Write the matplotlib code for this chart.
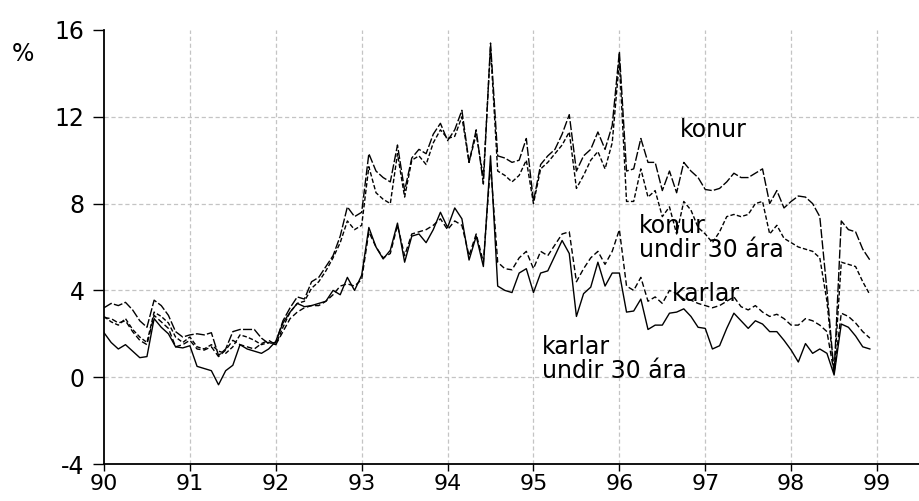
#!/usr/bin/env python3
# Atvinnuleysi kvenna og karla, 1990-1998 (manaðartölur, %)

import numpy as np
import matplotlib
matplotlib.use("Agg")
import matplotlib.pyplot as plt

# ── data (monthly, 1990:01 - 1998:12) ─────────────────────────────────
START_YEAR = 90

konur = [
    3.2, 3.4, 3.3, 3.45, 3.1, 2.6, 2.3, 3.55, 3.3, 2.85, 2.1, 1.85,          # 1990
    1.95, 2.0, 1.95, 2.05, 1.0, 1.3, 2.1, 2.2, 2.2, 2.2, 1.8, 1.55,          # 1991
    1.6, 2.6, 3.2, 3.7, 3.6, 4.4, 4.6, 5.1, 5.6, 6.5, 7.85, 7.4,             # 1992
    7.6, 10.3, 9.5, 9.2, 9.0, 10.7, 8.6, 10.1, 10.5, 10.3, 11.2, 11.7,       # 1993
    10.9, 11.4, 12.3, 9.9, 11.4, 8.9, 15.4, 10.2, 10.1, 9.9, 10.0, 11.0,     # 1994
    8.1, 9.8, 10.2, 10.5, 11.2, 12.1, 9.5, 10.2, 10.5, 11.3, 10.5, 11.6,     # 1995
    15.0, 9.5, 9.6, 11.0, 9.9, 9.9, 8.6, 9.5, 8.5, 9.9, 9.5, 9.2,            # 1996
    8.65, 8.6, 8.7, 9.0, 9.4, 9.2, 9.2, 9.4, 9.6, 8.0, 8.6, 7.8,             # 1997
    8.1, 8.35, 8.3, 8.0, 7.4, 4.0, 0.2, 7.2, 6.8, 6.7, 5.9, 5.4,             # 1998
]

konur_u30 = [
    2.8, 2.55, 2.4, 2.7, 2.2, 1.85, 1.6, 3.0, 2.8, 2.5, 1.85, 1.6,
    1.85, 1.4, 1.3, 1.5, 1.2, 1.1, 1.4, 1.95, 1.85, 1.7, 1.5, 1.6,
    1.5, 2.3, 3.0, 3.4, 3.5, 4.1, 4.4, 4.9, 5.5, 6.2, 7.2, 6.8,
    7.0, 9.7, 8.5, 8.2, 8.0, 10.3, 8.3, 10.0, 10.2, 9.8, 10.8, 11.4,
    11.0, 11.1, 12.0, 9.9, 11.2, 9.2, 15.2, 9.5, 9.3, 9.0, 9.3, 10.0,
    8.0, 9.6, 9.9, 10.3, 10.7, 11.3, 8.7, 9.3, 10.0, 10.4, 9.6, 10.8,
    14.6, 8.1, 8.1, 9.6, 8.3, 8.6, 7.4, 7.85, 6.6, 8.1, 7.7, 6.9,
    6.6, 6.2, 6.7, 7.4, 7.5, 7.4, 7.5, 8.0, 8.1, 6.6, 7.0, 6.4,
    6.2, 6.0, 5.9, 5.8, 5.5, 3.5, 0.2, 5.3, 5.2, 5.1, 4.4, 3.8,
]

karlar = [
    2.75, 2.7, 2.5, 2.6, 2.1, 1.7, 1.5, 2.85, 2.55, 2.25, 1.4, 1.5,
    1.7, 1.3, 1.25, 1.4, 0.95, 1.25, 1.7, 1.5, 1.4, 1.3, 1.55, 1.7,
    1.5, 2.1, 2.7, 3.0, 3.2, 3.3, 3.3, 3.5, 3.8, 4.2, 4.3, 4.2,
    4.5, 6.7, 6.0, 5.5, 5.7, 7.0, 5.6, 6.6, 6.7, 6.8, 7.0, 7.3,
    6.8, 7.2, 7.0, 5.6, 6.6, 5.3, 9.8, 5.3, 5.0, 4.95, 5.5, 5.8,
    5.0, 5.8, 5.6, 6.1, 6.6, 6.7, 4.4, 5.0, 5.5, 5.8, 5.2, 5.8,
    6.8, 4.2, 4.0, 4.6, 3.5, 3.7, 3.4, 4.0, 3.85, 3.6, 3.55, 3.4,
    3.3, 3.2, 3.3, 3.5, 3.7, 3.25, 3.1, 3.3, 3.0, 2.8, 2.9, 2.7,
    2.4, 2.4, 2.7, 2.6, 2.4, 2.1, 0.2, 2.95, 2.8, 2.5, 2.1, 1.8,
]

karlar_u30 = [
    2.05, 1.6, 1.3, 1.5, 1.2, 0.9, 0.95, 2.7, 2.3, 2.0, 1.4, 1.35,
    1.45, 0.5, 0.4, 0.3, -0.35, 0.3, 0.55, 1.5, 1.3, 1.2, 1.1, 1.3,
    1.65, 2.5, 3.0, 3.4, 3.25, 3.3, 3.4, 3.5, 4.0, 3.8, 4.6, 4.0,
    4.7, 6.9, 6.0, 5.45, 5.85, 7.1, 5.3, 6.5, 6.6, 6.2, 6.8, 7.6,
    6.9, 7.8, 7.3, 5.4, 6.5, 5.1, 10.2, 4.2, 4.0, 3.9, 4.8, 5.0,
    3.9, 4.8, 4.9, 5.6, 6.3, 5.7, 2.8, 3.85, 4.15, 5.3, 4.2, 4.8,
    4.8, 3.0, 3.05, 3.6, 2.2, 2.4, 2.4, 2.95, 3.0, 3.15, 2.8, 2.3,
    2.25, 1.3, 1.45, 2.25, 2.95, 2.6, 2.25, 2.6, 2.45, 2.1, 2.1, 1.7,
    1.25, 0.7, 1.55, 1.1, 1.3, 1.1, 0.1, 2.45, 2.3, 1.9, 1.4, 1.3,
]

year_ticks = [90, 91, 92, 93, 94, 95, 96, 97, 98, 99]
pct_ticks = [-4, 0, 4, 8, 12, 16]


def plot(save_path: str = "out.png") -> None:
    plt.rcParams["font.family"] = ["DejaVu Sans"]
    plt.rcParams["lines.scale_dashes"] = False
    fs = 17

    t = START_YEAR + np.arange(len(konur)) / 12.0

    fig = plt.figure(figsize=(9.2, 5.01), dpi=100)
    ax = fig.add_axes([104 / 920, 37 / 501, 1 - 104 / 920, 434 / 501])

    ax.plot(t, konur, color="black", lw=1.0, dashes=(6.5, 1.6))
    ax.plot(t, konur_u30, color="black", lw=1.0, dashes=(3.2, 1.6))
    ax.plot(t, karlar, color="black", lw=1.0, dashes=(4.0, 2.0))
    ax.plot(t, karlar_u30, color="black", lw=1.0)

    ax.set_xlim(90, 99.5)
    ax.set_ylim(-4, 16)
    ax.set_xticks(year_ticks)
    ax.set_xticklabels([str(y) for y in year_ticks])
    ax.set_yticks(pct_ticks)
    ax.set_yticklabels([str(v) for v in pct_ticks])

    # light dashed grid, none at the top value
    for y in pct_ticks[1:-1]:
        ax.axhline(y, color="#c4c4c4", lw=0.9, dashes=(3, 2), zorder=0)
    for x in year_ticks[1:]:
        ax.axvline(x, color="#c4c4c4", lw=0.9, dashes=(3, 2), zorder=0)

    for side in ("top", "right"):
        ax.spines[side].set_visible(False)
    for side in ("left", "bottom"):
        ax.spines[side].set_linewidth(1.3)

    ax.tick_params(axis="y", direction="out", length=8, width=1.0,
                   pad=6, labelsize=fs)
    ax.tick_params(axis="x", direction="out", length=5, width=1.0,
                   pad=2, labelsize=16)

    fig.text(23 / 920, 1 - 54 / 501, "%", fontsize=fs, ha="center", va="center")

    lab = dict(fontsize=fs, ha="left", va="baseline", linespacing=1.0)
    ax.text(96.71, 11.06, "konur", **lab)
    ax.text(96.23, 5.53, "konur\nundir 30 ára", **lab)
    ax.text(96.61, 3.5, "karlar", **lab)
    ax.text(95.1, -0.05, "karlar\nundir 30 ára", **lab)

    fig.savefig(save_path, dpi=100)
    plt.close(fig)


if __name__ == "__main__":
    plot()
